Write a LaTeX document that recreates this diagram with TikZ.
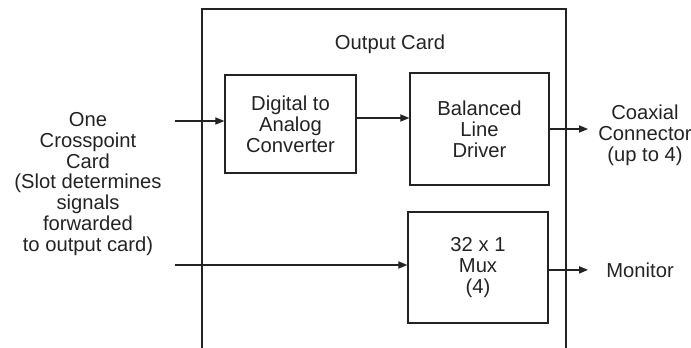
\documentclass[tikz,border=0pt]{standalone}
\usepackage{fontspec}
\setmainfont{Liberation Sans}
\usepackage{tikz}
\usetikzlibrary{arrows.meta}
\definecolor{inkgray}{RGB}{35,35,35}

\begin{document}
\begin{tikzpicture}[x=0.5pt,y=-0.5pt]
\tikzstyle{every node}+=[inner sep=0pt,text=inkgray,font=\fontsize{10.1}{10.4}\selectfont]
\tikzstyle{block}=[draw=inkgray,line width=0.7pt,align=center]
\tikzstyle{sig}=[draw=inkgray,line width=0.6pt,-{Triangle[length=4.5pt,width=3.6pt]}]
\useasboundingbox (0,0) rectangle (691,348);
\draw [inkgray,line width=0.7pt] (202,348) -- (202,9) -- (566,9) -- (566,348);
\node (title) at (390,44) {Output Card};
\node [block,minimum width=65.5pt,minimum height=49pt] (dac) at (290.5,124) {Digital to\\Analog\\Converter};
\node [block,minimum width=69.5pt,minimum height=56pt] (bld) at (479.5,129) {Balanced\\Line\\Driver};
\node [block,minimum width=70pt,minimum height=55.5pt] (mux) at (478,267.5) {32 x 1\\Mux\\(4)};
\node [align=center] (src) at (88,184) {One\\Crosspoint\\Card\\(Slot determines\\signals\\forwarded\\to output card)};
\node [align=center] (coax) at (645,135) {Coaxial\\Connector\\(up to 4)};
\node [anchor=west] (mon) at (606,270) {Monitor};
\coordinate (in1) at (175,121);
\coordinate (in2) at (175,265);
\coordinate (out1) at (588,0);
\draw [sig] (in1) -- (in1 -| dac.west);
\draw [sig] ([yshift=3pt]dac.east) -- ([yshift=3pt]dac.east -| bld.west);
\draw [sig] (in2) -- (in2 -| mux.west);
\draw [sig] (bld.east) -- (bld.east -| out1);
\draw [sig] ([yshift=-1.2pt]mux.east) -- ([yshift=-1.2pt]mux.east -| out1);
\end{tikzpicture}
\end{document}
